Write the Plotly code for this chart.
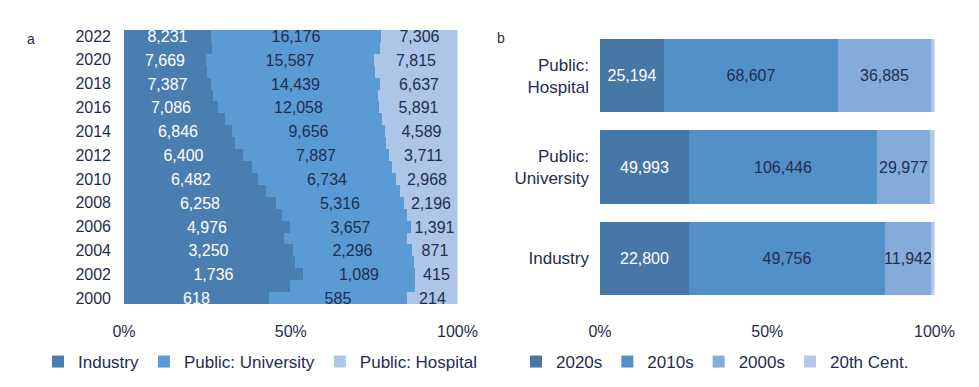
import plotly.graph_objects as go

# ---- Panel a data (counts by year; odd years unlabeled, estimated) ----
years = list(range(2000, 2023))
industry = [618, 1142, 1736, 2465, 3250, 3923, 4976, 5683, 6258, 6396, 6482, 6520,
            6400, 6500, 6846, 6976, 7086, 7140, 7387, 7399, 7669, 8297, 8231]
university = [585, 868, 1089, 1705, 2296, 3038, 3657, 4504, 5316, 6005, 6734, 7162,
              7887, 8843, 9656, 10824, 12058, 13247, 14439, 15064, 15587, 15920, 16176]
hospital = [214, 290, 415, 630, 871, 1239, 1391, 1813, 2196, 2600, 2968, 3318,
            3711, 4157, 4589, 5200, 5891, 6413, 6637, 7337, 7815, 7283, 7306]
year_ticks = [y for y in years if y % 2 == 0]

# ---- Panel b data ----
categories = ["Industry", "Public:<br>University", "Public:<br>Hospital"]
s2020s = [22800, 49993, 25194]
s2010s = [49756, 106446, 68607]
s2000s = [11942, 29977, 36885]
s20th = [800, 2300, 1300]

pct_ticks = [0, 50, 100]
pct_text = ["0%", "50%", "100%"]

NAVY = "#1f2d50"
FONT = "Liberation Sans, Arial, sans-serif"
W, H = 979, 387

def lbl(vals):
    return [f"{v:,}" if y % 2 == 0 else "" for y, v in zip(years, vals)]

fig = go.Figure()

left = [("Industry", industry, "#4a7eb0", "white"),
        ("Public: University", university, "#5b9bd5", NAVY),
        ("Public: Hospital", hospital, "#adc5e7", NAVY)]
for name, vals, col, tcol in left:
    fig.add_trace(go.Bar(
        y=years, x=vals, orientation="h", name=name, width=1,
        marker=dict(color=col, line=dict(width=0)),
        text=lbl(vals), textposition="inside", insidetextanchor="middle",
        textangle=0, textfont=dict(color=tcol, size=16, family=FONT),
        xaxis="x", yaxis="y", legend="legend", hoverinfo="skip"))

right = [("2020s", s2020s, "#4677a7", "white", True),
         ("2010s", s2010s, "#5490c8", NAVY, True),
         ("2000s", s2000s, "#84acdb", NAVY, True),
         ("20th Cent.", s20th, "#b4c8e8", NAVY, False)]
for name, vals, col, tcol, show in right:
    fig.add_trace(go.Bar(
        y=categories, x=vals, orientation="h", name=name, width=0.8,
        marker=dict(color=col, line=dict(width=0)),
        text=[f"{v:,}" for v in vals] if show else None,
        textposition="inside" if show else "none", insidetextanchor="middle",
        textangle=0, textfont=dict(color=tcol, size=16, family=FONT),
        xaxis="x2", yaxis="y2", legend="legend2", hoverinfo="skip"))

ydom = [1 - 304 / H, 1 - 30 / H]
common = dict(showgrid=False, zeroline=False, showline=False, ticks="",
              automargin=False)
fig.update_layout(
    width=W, height=H,
    margin=dict(l=0, r=0, t=0, b=0, autoexpand=False),
    paper_bgcolor="white", plot_bgcolor="white",
    barmode="stack", barnorm="percent", bargap=0,
    uniformtext=dict(minsize=16, mode="show"),
    font=dict(family=FONT, size=16, color=NAVY),
    showlegend=True,
    xaxis=dict(domain=[124 / W, 457.5 / W], range=[0, 100], tickvals=pct_ticks,
               ticktext=pct_text, ticklabelstandoff=16, anchor="y",
               tickfont=dict(size=16, color=NAVY), **common),
    yaxis=dict(domain=ydom, range=[1999.5, 2022.5], tickvals=year_ticks,
               ticktext=[str(y) for y in year_ticks], ticklabelstandoff=12,
               anchor="x", tickfont=dict(size=16, color=NAVY), **common),
    xaxis2=dict(domain=[600 / W, 934.5 / W], range=[0, 100], tickvals=pct_ticks,
                ticktext=pct_text, ticklabelstandoff=16, anchor="y2",
                tickfont=dict(size=16, color=NAVY), **common),
    yaxis2=dict(domain=ydom, range=[-0.5, 2.5], type="category",
                categoryorder="array", categoryarray=categories,
                ticklabelstandoff=10, anchor="x2",
                tickfont=dict(size=17, color=NAVY), **common),
    legend=dict(orientation="h", x=38 / W, xanchor="left", y=1 - 362 / H,
                yanchor="middle", font=dict(size=17, color=NAVY),
                bgcolor="rgba(0,0,0,0)", traceorder="normal"),
    legend2=dict(orientation="h", x=516 / W, xanchor="left", y=1 - 362 / H,
                 yanchor="middle", font=dict(size=17, color=NAVY),
                 bgcolor="rgba(0,0,0,0)", traceorder="normal"),
    annotations=[
        dict(text="a", x=25 / W, y=1 - 29 / H, xref="paper", yref="paper",
             showarrow=False, font=dict(size=14, color=NAVY)),
        dict(text="b", x=501 / W, y=1 - 28 / H, xref="paper", yref="paper",
             showarrow=False, font=dict(size=14, color=NAVY)),
    ],
)

fig.write_html("out.html", post_script="document.body.style.margin='0';",
               config={"displayModeBar": False})
